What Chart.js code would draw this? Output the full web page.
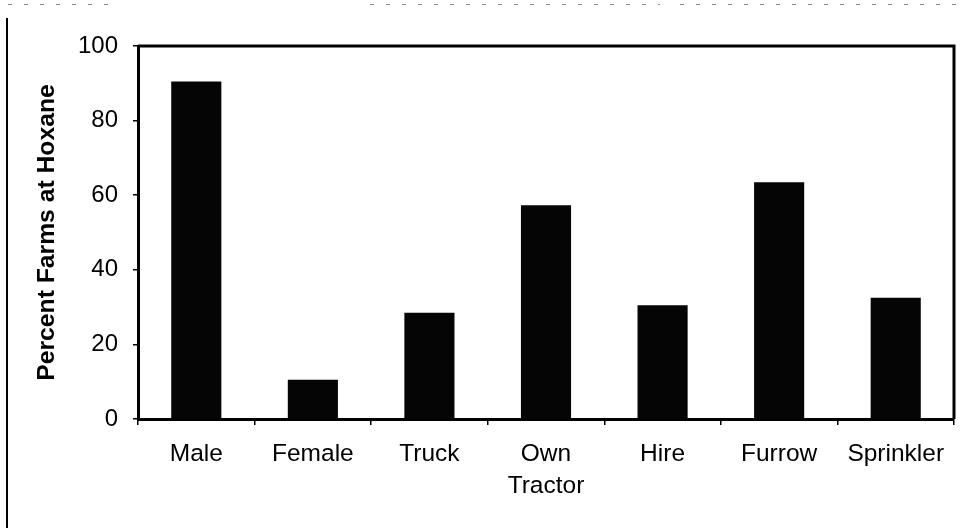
<!DOCTYPE html>
<html>
<head>
<meta charset="utf-8">
<script src="https://cdn.jsdelivr.net/npm/chart.js@4/dist/chart.umd.min.js"></script>
<style>
  html, body { margin: 0; padding: 0; background: #fff; }
  #wrap { width: 963px; height: 528px; position: relative; }
</style>
</head>
<body>
<div id="wrap"><canvas id="c" width="963" height="528"></canvas></div>
<script>
const categories = ["Male", "Female", "Truck", ["Own", "Tractor"], "Hire", "Furrow", "Sprinkler"];
const percentFarms = [90.5, 10.5, 28.5, 57.3, 30.5, 63.5, 32.5];
const yTicks = [0, 20, 40, 60, 80, 100];
const yTitle = "Percent Farms at Hoxane";

const FONT = "'Liberation Sans', Arial, Helvetica, sans-serif";

const framePlugin = {
  id: 'frame',
  beforeDraw(chart) {
    const ctx = chart.ctx;
    ctx.save();
    ctx.fillStyle = '#fff';
    ctx.fillRect(0, 0, chart.width, chart.height);
    // outer page frame line on the left
    ctx.strokeStyle = '#000';
    ctx.lineWidth = 2;
    ctx.beginPath();
    ctx.moveTo(7, 18);
    ctx.lineTo(7, chart.height);
    ctx.stroke();
    // faint scan line at top
    ctx.strokeStyle = '#888';
    ctx.lineWidth = 1;
    ctx.setLineDash([4, 12]);
    ctx.beginPath();
    ctx.moveTo(8, 4.5);
    ctx.lineTo(120, 4.5);
    ctx.moveTo(370, 4.5);
    ctx.lineTo(660, 4.5);
    ctx.moveTo(680, 4.5);
    ctx.lineTo(963, 4.5);
    ctx.stroke();
    ctx.restore();
  },
  afterDatasetsDraw(chart) {
    const a = chart.chartArea;
    const ctx = chart.ctx;
    ctx.save();
    ctx.strokeStyle = '#000';
    ctx.lineWidth = 3;
    ctx.beginPath();
    ctx.moveTo(a.left, a.top);
    ctx.lineTo(a.right, a.top);
    ctx.lineTo(a.right, a.bottom);
    ctx.stroke();
    ctx.restore();
  }
};

new Chart(document.getElementById('c'), {
  type: 'bar',
  data: {
    labels: categories,
    datasets: [{
      data: percentFarms,
      backgroundColor: '#050505',
      borderWidth: 0,
      categoryPercentage: 1,
      barPercentage: 0.43
    }]
  },
  options: {
    responsive: false,
    animation: false,
    devicePixelRatio: 1,
    layout: { padding: { top: 46, right: 9, bottom: 0, left: 0 } },
    plugins: { legend: { display: false }, tooltip: { enabled: false } },
    scales: {
      x: {
        afterFit(s) { s.height = 109; },
        border: { display: true, color: '#000', width: 3 },
        grid: { offset: true, drawOnChartArea: false, drawTicks: true, tickLength: 6, color: '#000', lineWidth: 1.5 },
        ticks: {
          color: '#000', padding: 13, maxRotation: 0, autoSkip: false,
          font: { family: FONT, size: 24.5, lineHeight: 1.31 }
        }
      },
      y: {
        min: 0, max: 100,
        afterFit(s) { s.width = 138; },
        afterBuildTicks(s) { s.ticks = yTicks.map(v => ({ value: v })); },
        border: { display: true, color: '#000', width: 3 },
        grid: { drawOnChartArea: false, drawTicks: true, tickLength: 5, color: '#000', lineWidth: 1.5 },
        ticks: {
          color: '#000', padding: 15,
          font: { family: FONT, size: 24 }
        },
        title: {
          display: true, text: yTitle, color: '#000',
          font: { family: FONT, size: 24.7, weight: 'bold', lineHeight: 1.2 },
          padding: { top: 32, bottom: 0 }
        }
      }
    }
  },
  plugins: [framePlugin]
});
</script>
</body>
</html>
